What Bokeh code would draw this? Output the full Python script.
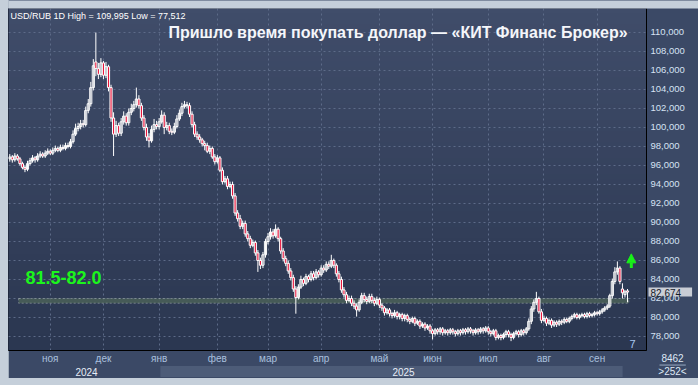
import numpy as np
from bokeh.plotting import figure
from bokeh.models import (ColumnDataSource, Range1d, FixedTicker, Label,
                          BoxAnnotation, Arrow, NormalHead)
from bokeh.layouts import column
from bokeh.embed import file_html
from bokeh.resources import INLINE

# ---------------- data (USD/RUB daily candles) ----------------
opens = [
    96.7, 96.9, 96.6, 97.0, 96.7, 96.2, 95.8, 95.6, 96.2, 96.5,
    96.8, 96.6, 97.0, 97.2, 97.0, 97.3, 97.5, 97.3, 97.6, 97.8,
    97.6, 97.9, 97.8, 98.1, 98.0, 98.5, 99.3, 99.9, 100.1, 100.4,
    100.3, 101.8, 102.5, 104.2, 106.9, 106.2, 105.6, 106.8, 105.5, 106.4,
    104.2, 101.0, 99.3, 100.2, 99.4, 100.6, 101.2, 100.5, 101.6, 102.0,
    102.4, 103.0, 102.3, 101.0, 100.0, 99.0, 98.6, 99.8, 100.3, 100.1,
    100.6, 101.3, 100.0, 100.2, 99.6, 99.5, 100.1, 100.9, 101.5, 102.2,
    102.4, 102.3, 101.4, 100.3, 99.3, 99.0, 98.7, 98.3, 98.1, 97.5,
    97.8, 96.9, 96.4, 96.8, 95.5, 94.3, 94.6, 93.8, 94.0, 92.8,
    91.0, 90.4, 89.6, 89.9, 88.8, 88.3, 87.6, 87.9, 86.8, 86.0,
    85.5, 86.6, 88.0, 88.5, 89.0, 88.6, 89.3, 88.3, 87.0, 86.2,
    85.7, 84.9, 84.2, 83.0, 82.1, 83.2, 84.0, 83.6, 84.3, 84.0,
    84.6, 84.2, 84.8, 84.5, 85.2, 85.0, 85.6, 85.4, 86.0, 85.5,
    84.6, 84.0, 82.9, 82.4, 81.8, 82.0, 81.5, 81.2, 80.8, 81.6,
    82.3, 81.9, 81.7, 82.2, 81.8, 81.5, 81.9, 81.3, 81.0, 80.5,
    80.8, 80.4, 80.2, 80.5, 80.1, 80.3, 79.9, 80.2, 79.8, 79.6,
    79.9, 79.4, 79.6, 79.1, 79.3, 78.9, 79.1, 78.6, 78.3, 78.7,
    78.5, 78.8, 78.4, 78.6, 78.4, 78.7, 78.5, 78.3, 78.6, 78.4,
    78.7, 78.5, 78.8, 78.6, 78.4, 78.7, 78.5, 78.8, 78.6, 78.9,
    78.5, 78.3, 78.6, 77.9, 78.1, 77.9, 78.2, 78.5, 78.2, 77.9,
    78.3, 78.5, 78.2, 78.6, 78.4, 78.8, 79.6, 80.9, 81.6, 82.0,
    80.6, 79.7, 79.9, 79.4, 79.7, 79.2, 79.5, 79.3, 79.6, 79.5,
    79.8, 79.6, 79.9, 80.1, 80.3, 80.0, 80.2, 80.3, 80.1, 80.4,
    80.2, 80.3, 80.5, 80.4, 80.6, 80.8, 81.0, 81.2, 82.3, 83.8,
    84.8, 85.2, 83.0, 82.4, 82.8,
]
highs = [
    97.2, 97.1, 97.3, 97.2, 96.9, 96.4, 96.0, 96.5, 96.8, 97.1,
    97.0, 97.3, 97.5, 97.4, 97.6, 97.8, 97.7, 97.9, 98.1, 98.0,
    98.2, 98.2, 98.4, 98.4, 98.8, 99.7, 100.4, 100.5, 100.8, 100.8,
    102.2, 103.0, 104.8, 107.2, 109.995, 106.8, 107.3, 107.0, 106.9, 106.6,
    104.5, 101.6, 100.7, 100.5, 101.0, 101.7, 101.5, 102.0, 102.5, 102.8,
    104.2, 103.4, 102.6, 101.3, 100.4, 99.4, 100.2, 100.9, 100.7, 101.0,
    101.8, 101.6, 100.6, 100.5, 99.9, 100.5, 101.3, 101.9, 102.6, 102.8,
    102.7, 102.6, 101.7, 100.6, 99.6, 99.3, 98.9, 98.6, 98.4, 98.1,
    98.0, 97.2, 97.1, 97.0, 95.8, 94.9, 94.9, 94.3, 94.3, 93.1,
    91.3, 90.8, 90.2, 90.2, 89.1, 88.6, 88.2, 88.1, 87.1, 86.3,
    86.9, 88.3, 88.9, 89.4, 89.3, 89.8, 89.5, 88.5, 87.3, 86.5,
    86.0, 85.2, 84.5, 83.3, 83.5, 84.4, 84.2, 84.6, 84.5, 84.9,
    84.9, 85.1, 85.0, 85.5, 85.5, 85.9, 85.9, 86.6, 86.2, 85.7,
    84.9, 84.3, 83.2, 82.7, 82.3, 82.3, 81.8, 81.5, 81.9, 82.6,
    82.6, 82.2, 82.5, 82.5, 82.1, 82.2, 82.1, 81.5, 81.2, 81.0,
    81.0, 80.6, 80.8, 80.7, 80.5, 80.5, 80.4, 80.4, 80.0, 80.1,
    80.1, 79.8, 79.8, 79.5, 79.5, 79.3, 79.3, 78.8, 78.9, 78.9,
    79.0, 79.0, 78.8, 78.8, 78.9, 78.9, 78.7, 78.8, 78.8, 78.9,
    78.9, 79.0, 79.0, 78.8, 78.9, 78.9, 79.0, 79.0, 79.1, 79.1,
    78.7, 78.8, 78.8, 78.3, 78.3, 78.4, 78.7, 78.7, 78.4, 78.5,
    78.7, 78.7, 78.8, 78.8, 79.0, 79.9, 81.2, 81.9, 82.7, 82.2,
    80.9, 80.2, 80.1, 79.9, 79.9, 79.7, 79.7, 79.8, 79.8, 80.0,
    80.0, 80.1, 80.3, 80.5, 80.5, 80.4, 80.5, 80.5, 80.6, 80.6,
    80.5, 80.7, 80.7, 80.8, 81.0, 81.2, 81.4, 82.5, 84.1, 85.3,
    85.9, 85.4, 83.6, 82.9, 83.0,
]
lows = [
    96.4, 96.3, 96.4, 96.5, 96.0, 95.6, 95.3, 95.4, 96.0, 96.3,
    96.3, 96.4, 96.8, 96.8, 96.8, 97.1, 97.1, 97.1, 97.4, 97.4,
    97.4, 97.6, 97.6, 97.8, 97.8, 98.3, 99.1, 99.6, 99.8, 100.0,
    100.1, 101.5, 102.2, 103.9, 105.4, 105.1, 105.3, 105.1, 105.2, 103.8,
    100.6, 97.0, 99.0, 99.1, 99.1, 100.3, 100.2, 100.2, 101.3, 101.7,
    102.1, 102.0, 100.7, 99.7, 98.6, 97.9, 98.4, 99.5, 99.8, 99.8,
    100.4, 99.3, 99.7, 99.3, 99.2, 99.3, 99.9, 100.7, 101.2, 102.0,
    102.0, 101.1, 100.0, 99.0, 98.7, 98.4, 98.0, 97.6, 97.3, 97.2,
    96.7, 96.1, 96.2, 95.3, 94.0, 94.1, 93.5, 93.6, 92.5, 90.7,
    90.1, 89.3, 89.3, 88.5, 88.0, 87.3, 87.4, 86.5, 84.8, 85.1,
    85.2, 86.3, 87.7, 88.2, 88.3, 88.4, 88.0, 86.7, 85.9, 85.4,
    84.6, 83.9, 82.7, 80.4, 81.9, 83.0, 83.3, 83.4, 83.7, 83.8,
    83.9, 84.0, 84.2, 84.3, 84.7, 84.8, 85.1, 85.2, 85.2, 84.3,
    83.7, 82.6, 82.1, 81.5, 81.6, 81.2, 80.9, 80.1, 80.6, 81.4,
    81.6, 81.4, 81.5, 81.5, 81.2, 81.3, 81.0, 80.7, 80.2, 80.3,
    80.1, 79.9, 80.0, 79.8, 79.8, 79.6, 79.6, 79.5, 79.3, 79.4,
    79.1, 79.2, 78.8, 78.9, 78.6, 78.7, 78.3, 77.7, 78.1, 78.2,
    78.2, 78.1, 78.2, 78.1, 78.2, 78.2, 78.0, 78.1, 78.1, 78.2,
    78.2, 78.3, 78.3, 78.1, 78.2, 78.2, 78.3, 78.3, 78.4, 78.2,
    78.0, 78.1, 77.6, 77.7, 77.6, 77.7, 77.9, 77.9, 77.512, 77.7,
    78.1, 77.9, 78.0, 78.1, 78.2, 78.6, 79.3, 80.6, 81.3, 80.4,
    79.4, 79.5, 79.1, 79.2, 78.9, 79.0, 79.0, 79.1, 79.2, 79.3,
    79.4, 79.4, 79.7, 79.9, 79.8, 79.8, 80.0, 79.9, 79.9, 80.0,
    80.0, 80.1, 80.2, 80.2, 80.4, 80.6, 80.8, 81.0, 82.0, 83.5,
    84.5, 83.5, 82.0, 82.1, 81.6,
]
closes = [
    96.9, 96.6, 97.0, 96.7, 96.2, 95.8, 95.6, 96.2, 96.5, 96.8,
    96.6, 97.0, 97.2, 97.0, 97.3, 97.5, 97.3, 97.6, 97.8, 97.6,
    97.9, 97.8, 98.1, 98.0, 98.5, 99.3, 99.9, 100.1, 100.4, 100.3,
    101.8, 102.5, 104.2, 106.5, 106.2, 105.6, 106.8, 105.5, 106.4, 104.2,
    101.0, 99.3, 100.2, 99.4, 100.6, 101.2, 100.5, 101.6, 102.0, 102.4,
    103.0, 102.3, 101.0, 100.0, 99.0, 98.6, 99.8, 100.3, 100.1, 100.6,
    101.3, 100.0, 100.2, 99.6, 99.5, 100.1, 100.9, 101.5, 102.2, 102.4,
    102.3, 101.4, 100.3, 99.3, 99.0, 98.7, 98.3, 98.1, 97.5, 97.8,
    96.9, 96.4, 96.8, 95.5, 94.3, 94.6, 93.8, 94.0, 92.8, 91.0,
    90.4, 89.6, 89.9, 88.8, 88.3, 87.6, 87.9, 86.8, 86.0, 85.5,
    86.6, 88.0, 88.5, 89.0, 88.6, 89.3, 88.3, 87.0, 86.2, 85.7,
    84.9, 84.2, 83.0, 82.1, 83.2, 84.0, 83.6, 84.3, 84.0, 84.6,
    84.2, 84.8, 84.5, 85.2, 85.0, 85.6, 85.4, 86.0, 85.5, 84.6,
    84.0, 82.9, 82.4, 81.8, 82.0, 81.5, 81.2, 80.8, 81.6, 82.3,
    81.9, 81.7, 82.2, 81.8, 81.5, 81.9, 81.3, 81.0, 80.5, 80.8,
    80.4, 80.2, 80.5, 80.1, 80.3, 79.9, 80.2, 79.8, 79.6, 79.9,
    79.4, 79.6, 79.1, 79.3, 78.9, 79.1, 78.6, 78.3, 78.7, 78.5,
    78.8, 78.4, 78.6, 78.4, 78.7, 78.5, 78.3, 78.6, 78.4, 78.7,
    78.5, 78.8, 78.6, 78.4, 78.7, 78.5, 78.8, 78.6, 78.9, 78.5,
    78.3, 78.6, 77.9, 78.1, 77.9, 78.2, 78.5, 78.2, 77.9, 78.3,
    78.5, 78.2, 78.6, 78.4, 78.8, 79.6, 80.9, 81.6, 82.0, 80.6,
    79.7, 79.9, 79.4, 79.7, 79.2, 79.5, 79.3, 79.6, 79.5, 79.8,
    79.6, 79.9, 80.1, 80.3, 80.0, 80.2, 80.3, 80.1, 80.4, 80.2,
    80.3, 80.5, 80.4, 80.6, 80.8, 81.0, 81.2, 82.3, 83.8, 84.8,
    85.2, 83.8, 82.6, 82.7, 82.674,
]

month_ticks = [16, 37, 59, 82, 102, 123, 146, 167, 189, 211, 232]
month_labels = ["ноя", "дек", "янв", "фев", "мар", "апр", "май", "июн", "июл", "авг", "сен"]
year_labels = ["2024", "2025"]
price_ticks = [78, 80, 82, 84, 86, 88, 90, 92, 94, 96, 98, 100, 102, 104, 106, 108, 110]
price_labels = ["78,000", "80,000", "82,000", "84,000", "86,000", "88,000", "90,000",
                "92,000", "94,000", "96,000", "98,000", "100,000", "102,000", "104,000",
                "106,000", "108,000", "110,000"]
zone_low, zone_high = 81.5, 82.0
zone_text = "81.5-82.0"
last_price_text = "82,674"
last_price = 82.674
info_text = "USD/RUB 1D High = 109,995 Low = 77,512"
title_text = "Пришло время покупать доллар — «КИТ Финанс Брокер»"
bars_text, bars_visible = "8462", ">252<"
# --------------------------------------------------------------------------------------

BORDER = "#3b4966"
LIGHT = "#c5cfda"
RED = "#e8153c"
FONT = "Liberation Sans"
X0, X1 = -0.5, 251.5
Y0, Y1 = 76.526, 112.526
FH = 342           # frame height in pixels (page rows 8..350)
TOP = 120          # hidden top border that hosts the outside-the-frame labels
OY = TOP - 8       # canvas y = page y + OY
OX = -8            # canvas x = page x + OX


def yv(page_y):
    """vertical position of a page row, expressed on the price scale"""
    return Y1 - (page_y - 8) * (Y1 - Y0) / FH


idx = np.arange(len(closes))
o = np.array(opens)
c = np.array(closes)
down = c < o
src = ColumnDataSource(dict(
    x=idx, h=highs, l=lows,
    top=np.maximum(o, c), bottom=np.minimum(o, c),
    fill=[RED if d else "#000000" for d in down],
    alpha=[1.0 if d else 0.0 for d in down],
))

p = figure(frame_width=638, frame_height=FH, output_backend="svg", toolbar_location=None,
           x_range=Range1d(X0, X1), y_range=Range1d(Y0, Y1),
           x_axis_location="below", y_axis_location="right",
           min_border_left=0, min_border_top=TOP, min_border_right=52, min_border_bottom=28)
p.margin = (8 - TOP, 0, 7, 8)
p.background_fill_color = "#35425d"
p.border_fill_color = BORDER
p.outline_line_color = "#1c2438"

# vertical background gradient of the chart area
top_rgb = np.array([0x40, 0x4d, 0x6a])
bot_rgb = np.array([0x2b, 0x37, 0x51])
nsteps = 64
tt = np.linspace(0, 1, nsteps)[:, None]
cols = (bot_rgb * (1 - tt) + top_rgb * tt).astype(np.uint32)
img = (255 << 24) | (cols[:, 2] << 16) | (cols[:, 1] << 8) | cols[:, 0]
p.image_rgba(image=[img.reshape(nsteps, 1)], x=X0, y=Y0, dw=X1 - X0, dh=Y1 - Y0, level="image")

# axes
xa = p.xaxis[0]
xa.ticker = FixedTicker(ticks=month_ticks)
xa.major_label_overrides = {t: s for t, s in zip(month_ticks, month_labels)}
xa.axis_line_color = "black"
xa.major_tick_in = 0
xa.major_tick_out = 0
xa.minor_tick_line_color = None
xa.major_label_standoff = 2
xa.major_label_text_font = FONT
xa.major_label_text_font_size = "10px"
xa.major_label_text_color = "#aac0de"

ya = p.yaxis[0]
ya.ticker = FixedTicker(ticks=price_ticks)
ya.major_label_overrides = {t: s for t, s in zip(price_ticks, price_labels)}
ya.axis_line_color = "black"
ya.major_tick_in = 0
ya.major_tick_out = 0
ya.minor_tick_line_color = None
ya.major_label_standoff = 4
ya.major_label_text_font = FONT
ya.major_label_text_font_size = "9.5px"
ya.major_label_text_color = "#d6e2f3"

for g in (p.xgrid[0], p.ygrid[0]):
    g.grid_line_color = "#5d6b88"
    g.grid_line_dash = "2 3"
    g.grid_line_width = 1
p.xgrid[0].ticker = FixedTicker(ticks=month_ticks)
p.ygrid[0].ticker = FixedTicker(ticks=price_ticks)

# zone (under the candles)
p.add_layout(BoxAnnotation(left=3.5, right=244.5, bottom=zone_low, top=zone_high,
                           fill_color="#4a6058", fill_alpha=0.85, level="underlay",
                           line_color="white", line_dash="2 2", line_width=1))

# candles
p.segment(x0="x", y0="l", x1="x", y1="h", source=src, line_color="white", line_width=1)
p.vbar(x="x", width=0.85, top="top", bottom="bottom", source=src,
       fill_color="fill", fill_alpha="alpha", line_color="white", line_width=1)

# texts inside the chart
p.add_layout(Label(x=2, y=335, x_units="screen", y_units="screen", text=info_text,
                   text_font=FONT, text_font_size="9px", text_color="white",
                   text_baseline="middle"))
p.add_layout(Label(x=160, y=318, x_units="screen", y_units="screen", text=title_text,
                   text_font=FONT, text_font_size="16px", text_font_style="bold",
                   text_color="#f4f6fa", text_baseline="middle"))
p.add_layout(Label(x=17, y=73, x_units="screen", y_units="screen", text=zone_text,
                   text_font=FONT, text_font_size="18px", text_font_style="bold",
                   text_color="#1cf51c", text_baseline="middle"))
p.add_layout(Arrow(x_start=245.5, y_start=85.2, x_end=245.5, y_end=86.7,
                   line_color="#19f019", line_width=3,
                   end=NormalHead(size=9, fill_color="#19f019", line_color="#19f019")))
p.add_layout(Label(x=624, y=7, x_units="screen", y_units="screen", text="7",
                   text_font=FONT, text_font_size="11px", text_color="#a8c8f0",
                   text_align="center", text_baseline="middle"))

# texts in the border panels: labels hosted by the (hidden) top side panel are
# not clipped; x in canvas pixels, y on the (extended) price scale
def outside(**kw):
    p.add_layout(Label(x_units="canvas", **kw), "above")

outside(x=391 + OX, y=yv(371), y_units="data", text=year_labels[1],
        text_font=FONT, text_font_size="10px", text_color="#e6edf7",
        background_fill_color="#4d5c78", text_align="center", text_baseline="middle",
        padding=dict(left=232, right=208, top=2, bottom=1))
outside(x=86 + OX, y=yv(371), y_units="data", text=year_labels[0],
        text_font=FONT, text_font_size="10px", text_color="#e6edf7",
        text_align="center", text_baseline="middle")
outside(x=648 + OX, y=last_price, y_units="data", text=last_price_text,
        text_font=FONT, text_font_size="10px", text_color="#151c2b",
        background_fill_color="#c9cdd5", text_baseline="middle",
        padding=dict(left=2, right=11, top=1, bottom=0))
outside(x=672 + OX, y=yv(357), y_units="data", text=bars_text,
        text_font=FONT, text_font_size="10px", text_color="#dfe8f5",
        text_align="center", text_baseline="middle")
outside(x=659 + OX, y=yv(364), y_units="data", text=" ", text_font_size="1px",
        background_fill_color="#8fa0b8", text_baseline="top",
        padding=dict(left=0, right=26, top=0, bottom=0))
outside(x=672 + OX, y=yv(371), y_units="data", text=bars_visible,
        text_font=FONT, text_font_size="10px", text_color="#dfe8f5",
        text_align="center", text_baseline="middle")
# light window border along the top and bottom edges
outside(x=0, y=OY, y_units="canvas", text=" ", text_font_size="1px",
        background_fill_color=LIGHT, text_baseline="top",
        padding=dict(left=0, right=690, top=0, bottom=7))
outside(x=0, y=yv(378), y_units="data", text=" ", text_font_size="1px",
        background_fill_color=LIGHT, text_baseline="top",
        padding=dict(left=0, right=690, top=0, bottom=14))

layout = column(p, styles={"background-color": LIGHT})
open("out.html", "w").write(file_html(layout, INLINE))
